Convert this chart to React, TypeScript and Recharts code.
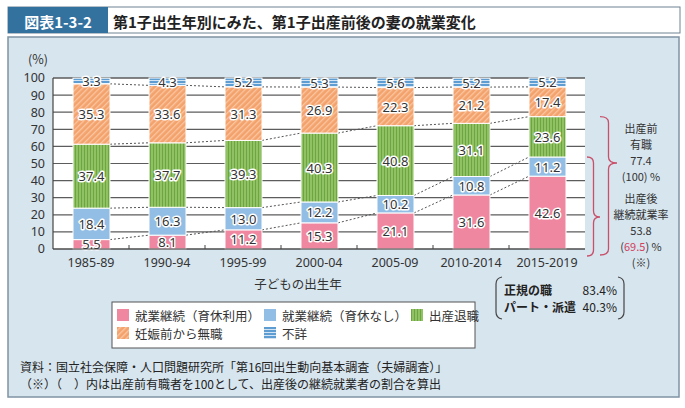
import { Bar, BarChart, CartesianGrid, XAxis, YAxis } from "recharts";

// birth cohort of the first child
const years = ["1985-89", "1990-94", "1995-99", "2000-04", "2005-09", "2010-2014", "2015-2019"];

// share of mothers (%) by employment change around the first birth
const leaveUsed = [5.5, 8.1, 11.2, 15.3, 21.1, 31.6, 42.6];
const noLeave = [18.4, 16.3, 13.0, 12.2, 10.2, 10.8, 11.2];
const quitAtBirth = [37.4, 37.7, 39.3, 40.3, 40.8, 31.1, 23.6];
const notWorking = [35.3, 33.6, 31.3, 26.9, 22.3, 21.2, 17.4];
const unknown = [3.3, 4.3, 5.2, 5.3, 5.6, 5.2, 5.2];

const yTicks = [0, 10, 20, 30, 40, 50, 60, 70, 80, 90, 100];

// continuation rate by contract type, latest cohort
const regularRate = 83.4;
const partTimeRate = 40.3;

const FONT = '"Noto Sans CJK JP", "Noto Sans", sans-serif';
const NUM_FONT = '"Noto Sans", "Noto Sans CJK JP", sans-serif';
const CHART_W = 685;
const CHART_H = 408;
const PLOT = { left: 53, top: 78, right: 585, bottom: 249 };
const Y_AXIS_W = 53;
const X_AXIS_H = 24;
const BAND = (PLOT.right - PLOT.left) / years.length;

const series = [
  { key: "leaveUsed", name: "就業継続（育休利用）", values: leaveUsed, fill: "#ef87a0" },
  { key: "noLeave", name: "就業継続（育休なし）", values: noLeave, fill: "#92bde4" },
  { key: "quitAtBirth", name: "出産退職", values: quitAtBirth, fill: "url(#pat-quit)" },
  { key: "notWorking", name: "妊娠前から無職", values: notWorking, fill: "url(#pat-none)" },
  { key: "unknown", name: "不詳", values: unknown, fill: "url(#pat-unk)" },
];

const data = years.map((year, i) => {
  const row: Record<string, string | number> = { year };
  series.forEach((s) => (row[s.key] = s.values[i]));
  return row;
});

// running totals, used for the dotted links between neighbouring bars
const cumulative = series.map((_, level) =>
  years.map((__, i) => series.slice(0, level + 1).reduce((sum, s) => sum + s.values[i], 0))
);

const yFor = (v: number) => PLOT.bottom - ((PLOT.bottom - PLOT.top) * v) / 100;

const last = years.length - 1;
const employedBefore = leaveUsed[last] + noLeave[last] + quitAtBirth[last];
const continued = leaveUsed[last] + noLeave[last];
const continuedRatio = (continued / employedBefore) * 100;

function segmentShape(level: number) {
  return (props: any) => {
    const { x, y, width, height, index } = props;
    const s = series[level];
    const value = s.values[index];
    const ppu = value > 0 ? height / value : 0;
    const link = level < series.length - 1 && index < years.length - 1;
    const yNext = link
      ? y - (cumulative[level][index + 1] - cumulative[level][index]) * ppu
      : y;
    return (
      <g>
        <rect x={x} y={y} width={width} height={height} fill={s.fill} stroke="#fff" strokeWidth={1} />
        {link && (
          <line
            x1={x + width}
            y1={y}
            x2={x + BAND}
            y2={yNext}
            stroke="#555"
            strokeWidth={1}
            strokeDasharray="2 2"
          />
        )}
        <text
          x={x + width / 2}
          y={y + height / 2}
          textAnchor="middle"
          dominantBaseline="central"
          fontFamily={NUM_FONT}
          fontSize={13}
          fill="#333"
          stroke="#fff"
          strokeWidth={3}
          paintOrder="stroke"
          strokeLinejoin="round"
        >
          {value.toFixed(1)}
        </text>
      </g>
    );
  };
}

// small marks on the x axis between categories
function CategoryTicks() {
  return (
    <g>
      {years.slice(1).map((y, i) => (
        <line
          key={y}
          x1={PLOT.left + BAND * (i + 1)}
          x2={PLOT.left + BAND * (i + 1)}
          y1={PLOT.bottom - 4}
          y2={PLOT.bottom}
          stroke="#444"
          strokeWidth={1}
        />
      ))}
    </g>
  );
}

function brace(x0: number, x1: number, top: number, tip: number, bottom: number) {
  const m = x0 + (x1 - x0) * 0.5;
  return `M${x0},${top} Q${m},${top} ${m},${top + 6} L${m},${tip - 6} Q${m},${tip} ${x1},${tip} Q${m},${tip} ${m},${tip + 6} L${m},${bottom - 6} Q${m},${bottom} ${x0},${bottom}`;
}

function Frame() {
  const note = { fontSize: 11, fill: "#333", textAnchor: "middle" as const };
  const legendRows = [
    [0, 1, 2],
    [3, 4],
  ];
  const legendX = [117, 264, 411];
  return (
    <svg width={CHART_W} height={CHART_H} style={{ position: "absolute", left: 0, top: 0 }}>
      <defs>
        <pattern id="pat-quit" width="3" height="6" patternUnits="userSpaceOnUse">
          <rect width="3" height="6" fill="#90c264" />
          <rect width="1" height="6" fill="#6ea543" />
        </pattern>
        <pattern id="pat-none" width="4" height="4" patternUnits="userSpaceOnUse" patternTransform="rotate(45)">
          <rect width="4" height="4" fill="#f4a26c" />
          <rect width="1.3" height="4" fill="#fac6a2" />
        </pattern>
        <pattern id="pat-unk" width="6" height="3" patternUnits="userSpaceOnUse">
          <rect width="6" height="3" fill="#d3e5f4" />
          <rect width="6" height="2" fill="#5e9dd2" />
        </pattern>
      </defs>

      {/* heading */}
      <rect x={8} y={7} width={672} height={26} fill="#fff" stroke="#6d8291" strokeWidth={1} />
      <rect x={8} y={7} width={100} height={26} fill="#33719f" />
      <text x={58} y={21} textAnchor="middle" dominantBaseline="central" fontSize={15} fontWeight={700} fill="#fff">
        図表1-3-2
      </text>
      <text x={113} y={21} dominantBaseline="central" fontSize={15} fontWeight={700} fill="#222">
        第1子出生年別にみた、第1子出産前後の妻の就業変化
      </text>

      {/* panel */}
      <rect x={8} y={37} width={671} height={360} fill="#d7e5ee" stroke="#7f93a2" strokeWidth={1.5} />

      <text x={38} y={58} textAnchor="middle" dominantBaseline="central" fontSize={12.5} fill="#333">
        (%)
      </text>
      <text x={298} y={283} textAnchor="middle" dominantBaseline="central" fontSize={12.5} fill="#333">
        子どもの出生年
      </text>

      {/* braces on the right */}
      <path d={brace(600, 617, yFor(employedBefore), 163, 255)} fill="none" stroke="#c9506b" strokeWidth={1.3} />
      <path d={brace(587, 600, yFor(continued), 217, 256)} fill="none" stroke="#c9506b" strokeWidth={1.3} />
      <g {...note} stroke="#d7e5ee" strokeWidth={3} paintOrder="stroke" dominantBaseline="central">
        <text x={641} y={128}>出産前</text>
        <text x={641} y={144}>有職</text>
        <text x={641} y={160}>{employedBefore.toFixed(1)}</text>
        <text x={641} y={176}>(100) %</text>
        <text x={641} y={198}>出産後</text>
        <text x={641} y={214}>継続就業率</text>
        <text x={641} y={230}>{continued.toFixed(1)}</text>
        <text x={641} y={246}>
          (<tspan fill="#d2405c">{continuedRatio.toFixed(1)}</tspan>) %
        </text>
        <text x={641} y={262}>(※)</text>
      </g>

      {/* contract type breakdown */}
      <path d="M502,277 Q496,278 496,284 L496,312 Q496,318 502,319" fill="none" stroke="#444" strokeWidth={1.2} />
      <path d="M618,277 Q624,278 624,284 L624,312 Q624,318 618,319" fill="none" stroke="#444" strokeWidth={1.2} />
      <g fontSize={12} fill="#222" dominantBaseline="central">
        <text x={504} y={289} fontWeight={700}>正規の職</text>
        <text x={617} y={289} textAnchor="end">{regularRate.toFixed(1)}%</text>
        <text x={504} y={306} fontWeight={700}>パート・派遣</text>
        <text x={617} y={306} textAnchor="end">{partTimeRate.toFixed(1)}%</text>
      </g>

      {/* legend */}
      <rect x={112} y={302} width={363} height={46} fill="#fff" stroke="#555" strokeWidth={1} />
      {legendRows.map((row, r) =>
        row.map((idx, c) => (
          <g key={idx}>
            <rect x={legendX[c]} y={309 + r * 18} width={12} height={12} fill={series[idx].fill} />
            <text x={legendX[c] + 18} y={315 + r * 18} dominantBaseline="central" fontSize={12.5} fill="#333">
              {series[idx].name}
            </text>
          </g>
        ))
      )}

      {/* notes */}
      <text x={20} y={366} dominantBaseline="central" fontSize={12} fill="#222">
        資料：国立社会保障・人口問題研究所「第16回出生動向基本調査（夫婦調査）」
      </text>
      <text x={20} y={383} dominantBaseline="central" fontSize={12} fill="#222">
        （※）（　）内は出産前有職者を100として、出産後の継続就業者の割合を算出
      </text>
    </svg>
  );
}

export default function App() {
  return (
    <div style={{ position: "absolute", left: 0, top: 0, width: CHART_W, height: CHART_H, fontFamily: FONT }}>
      <Frame />
      <div style={{ position: "absolute", left: 0, top: 0 }}>
        <BarChart
          width={CHART_W}
          height={CHART_H}
          data={data}
          barSize={37}
          margin={{
            top: PLOT.top,
            right: CHART_W - PLOT.right,
            bottom: CHART_H - PLOT.bottom - X_AXIS_H,
            left: PLOT.left - Y_AXIS_W,
          }}
        >
          <CartesianGrid vertical={false} stroke="#5c5c5c" strokeWidth={1.2} fill="#fff" fillOpacity={1} />
          <XAxis
            dataKey="year"
            height={X_AXIS_H}
            tickLine={false}
            tickMargin={3}
            axisLine={{ stroke: "#444", strokeWidth: 1.2 }}
            tick={{ fontSize: 12.5, fill: "#333", fontFamily: NUM_FONT }}
            interval={0}
          />
          <YAxis
            width={Y_AXIS_W}
            domain={[0, 100]}
            ticks={yTicks}
            interval={0}
            tickLine={false}
            axisLine={{ stroke: "#444", strokeWidth: 1.2 }}
            tick={{ fontSize: 12.5, fill: "#333", fontFamily: NUM_FONT }}
          />
          {series.map((s, level) => (
            <Bar
              key={s.key}
              dataKey={s.key}
              name={s.name}
              stackId="a"
              fill={s.fill}
              shape={segmentShape(level)}
              isAnimationActive={false}
            />
          ))}
          <CategoryTicks />
        </BarChart>
      </div>
    </div>
  );
}
